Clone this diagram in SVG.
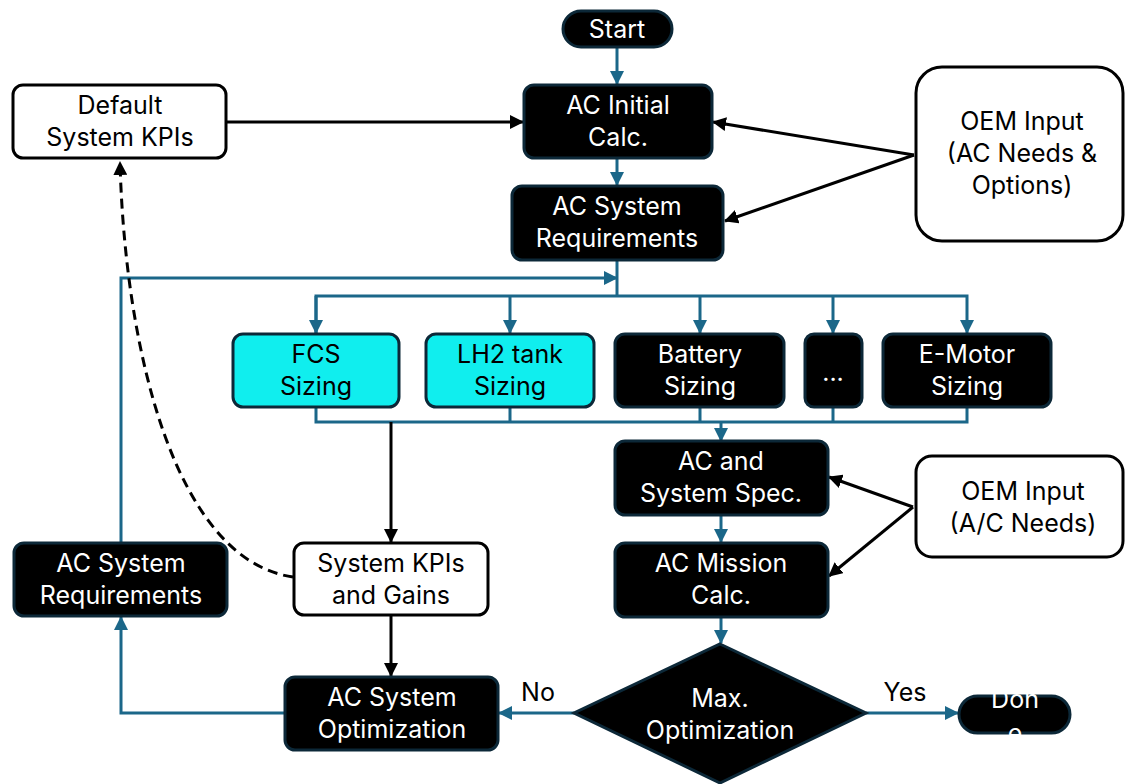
<svg xmlns="http://www.w3.org/2000/svg" width="1126" height="784" viewBox="0 0 1126 784">
<style>
.t{font-family:Inter,"Liberation Sans",Arial,sans-serif;font-size:25px;text-anchor:middle}
.w{fill:#ffffff}
.k{fill:#000000}
.dark{fill:#000000;stroke:#0c2838;stroke-width:3}
.cyan{fill:#10eeee;stroke:#0c2838;stroke-width:3}
.white{fill:#ffffff;stroke:#000000;stroke-width:3}
.blue{fill:none;stroke:#1b6789;stroke-width:3}
.black{fill:none;stroke:#000000;stroke-width:3}
</style>
<defs>
<marker id="ab" markerUnits="userSpaceOnUse" markerWidth="14" markerHeight="14" viewBox="0 0 14 14" refX="13" refY="7" orient="auto">
<path d="M0,0 L14,7 L0,14 z" fill="#1b6789"/>
</marker>
<marker id="ak" markerUnits="userSpaceOnUse" markerWidth="14" markerHeight="14" viewBox="0 0 14 14" refX="13" refY="7" orient="auto">
<path d="M0,0 L14,7 L0,14 z" fill="#000000"/>
</marker>
</defs>
<rect width="1126" height="784" fill="#ffffff"/>
<g id="connectors">
<line class="blue" x1="617" y1="47" x2="617" y2="84" marker-end="url(#ab)"/>
<line class="blue" x1="617" y1="158" x2="617" y2="185" marker-end="url(#ab)"/>
<line class="black" x1="227" y1="122" x2="523" y2="122" marker-end="url(#ak)"/>
<line class="black" x1="914" y1="155" x2="713" y2="122" marker-end="url(#ak)"/>
<line class="black" x1="914" y1="155" x2="725" y2="221" marker-end="url(#ak)"/>
<polyline class="blue" points="617,260 617,296"/>
<polyline class="blue" points="316,333 316,296 967,296 967,333" marker-end="url(#ab)"/>
<line class="blue" x1="316" y1="296" x2="316" y2="333" marker-end="url(#ab)"/>
<line class="blue" x1="510" y1="296" x2="510" y2="333" marker-end="url(#ab)"/>
<line class="blue" x1="700" y1="296" x2="700" y2="333" marker-end="url(#ab)"/>
<line class="blue" x1="833" y1="296" x2="833" y2="333" marker-end="url(#ab)"/>
<polyline class="blue" points="121,542 121,278 617,278" marker-end="url(#ab)"/>
<polyline class="blue" points="316,408 316,422 967,422 967,408"/>
<line class="blue" x1="510" y1="408" x2="510" y2="422"/>
<line class="blue" x1="700" y1="408" x2="700" y2="422"/>
<line class="blue" x1="833" y1="408" x2="833" y2="422"/>
<line class="blue" x1="721" y1="422" x2="721" y2="441" marker-end="url(#ab)"/>
<line class="black" x1="391" y1="422" x2="391" y2="542" marker-end="url(#ak)"/>
<line class="blue" x1="721" y1="515" x2="721" y2="542" marker-end="url(#ab)"/>
<line class="black" x1="913" y1="507" x2="829" y2="477" marker-end="url(#ak)"/>
<line class="black" x1="913" y1="507" x2="829" y2="576" marker-end="url(#ak)"/>
<line class="blue" x1="721" y1="617" x2="721" y2="643" marker-end="url(#ab)"/>
<line class="black" x1="391" y1="616" x2="391" y2="676" marker-end="url(#ak)"/>
<line class="blue" x1="574" y1="713" x2="499" y2="713" marker-end="url(#ab)"/>
<line class="blue" x1="866" y1="713" x2="958" y2="713" marker-end="url(#ab)"/>
<polyline class="blue" points="285,713 121,713 121,617" marker-end="url(#ab)"/>
<path class="black" d="M293,577 C175,560 125,350 120,162" stroke-dasharray="10,6" marker-end="url(#ak)"/>
<text class="t k" x="538" y="701">No</text>
<text class="t k" x="905" y="701">Yes</text>
</g>
<g id="start">
<rect class="dark" x="563" y="11" width="109" height="36" rx="18"/>
<text class="t w" x="617" y="38">Start</text>
</g>
<g id="ac-initial">
<rect class="dark" x="524" y="85" width="188" height="73" rx="10"/>
<text class="t w" x="618" y="114">AC Initial</text>
<text class="t w" x="618" y="146">Calc.</text>
</g>
<g id="ac-sys-req">
<rect class="dark" x="512" y="186" width="211" height="74" rx="10"/>
<text class="t w" x="617" y="215">AC System</text>
<text class="t w" x="617" y="247">Requirements</text>
</g>
<g id="default-kpis">
<rect class="white" x="13" y="85" width="213" height="73" rx="10"/>
<text class="t k" x="120" y="114">Default</text>
<text class="t k" x="120" y="146">System KPIs</text>
</g>
<g id="oem-top">
<rect class="white" x="916" y="67" width="207" height="174" rx="26"/>
<text class="t k" x="1022" y="130">OEM Input</text>
<text class="t k" x="1022" y="162">(AC Needs &amp;</text>
<text class="t k" x="1022" y="194">Options)</text>
</g>
<g id="fcs">
<rect class="cyan" x="233" y="334" width="166" height="73" rx="10"/>
<text class="t k" x="316" y="363">FCS</text>
<text class="t k" x="316" y="395">Sizing</text>
</g>
<g id="lh2">
<rect class="cyan" x="426" y="334" width="168" height="73" rx="10"/>
<text class="t k" x="510" y="363">LH2 tank</text>
<text class="t k" x="510" y="395">Sizing</text>
</g>
<g id="battery">
<rect class="dark" x="615" y="334" width="169" height="73" rx="10"/>
<text class="t w" x="700" y="363">Battery</text>
<text class="t w" x="700" y="395">Sizing</text>
</g>
<g id="dots">
<rect class="dark" x="805" y="334" width="57" height="73" rx="9"/>
<text class="t w" x="833" y="381">...</text>
</g>
<g id="emotor">
<rect class="dark" x="883" y="334" width="168" height="73" rx="10"/>
<text class="t w" x="967" y="363">E-Motor</text>
<text class="t w" x="967" y="395">Sizing</text>
</g>
<g id="ac-spec">
<rect class="dark" x="615" y="441" width="213" height="74" rx="10"/>
<text class="t w" x="721" y="470">AC and</text>
<text class="t w" x="721" y="502">System Spec.</text>
</g>
<g id="oem-bottom">
<rect class="white" x="916" y="456" width="207" height="101" rx="16"/>
<text class="t k" x="1023" y="500">OEM Input</text>
<text class="t k" x="1023" y="532">(A/C Needs)</text>
</g>
<g id="ac-mission">
<rect class="dark" x="615" y="543" width="213" height="74" rx="10"/>
<text class="t w" x="721" y="572">AC Mission</text>
<text class="t w" x="721" y="604">Calc.</text>
</g>
<g id="ac-sys-req-left">
<rect class="dark" x="14" y="543" width="213" height="73" rx="10"/>
<text class="t w" x="121" y="572">AC System</text>
<text class="t w" x="121" y="604">Requirements</text>
</g>
<g id="kpis-gains">
<rect class="white" x="294" y="543" width="194" height="72" rx="10"/>
<text class="t k" x="391" y="572">System KPIs</text>
<text class="t k" x="391" y="604">and Gains</text>
</g>
<g id="ac-opt">
<rect class="dark" x="285" y="677" width="213" height="73" rx="10"/>
<text class="t w" x="392" y="706">AC System</text>
<text class="t w" x="392" y="738">Optimization</text>
</g>
<g id="max-opt">
<polygon class="dark" points="720,644 866,713 720,783 574,713"/>
<text class="t w" x="720" y="707">Max.</text>
<text class="t w" x="720" y="739">Optimization</text>
</g>
<g id="done">
<rect class="dark" x="959" y="696" width="111" height="37" rx="18.5"/>
<text class="t w" x="1015" y="708">Don</text>
<text class="t w" x="1015" y="742">e</text>
</g>
</svg>
